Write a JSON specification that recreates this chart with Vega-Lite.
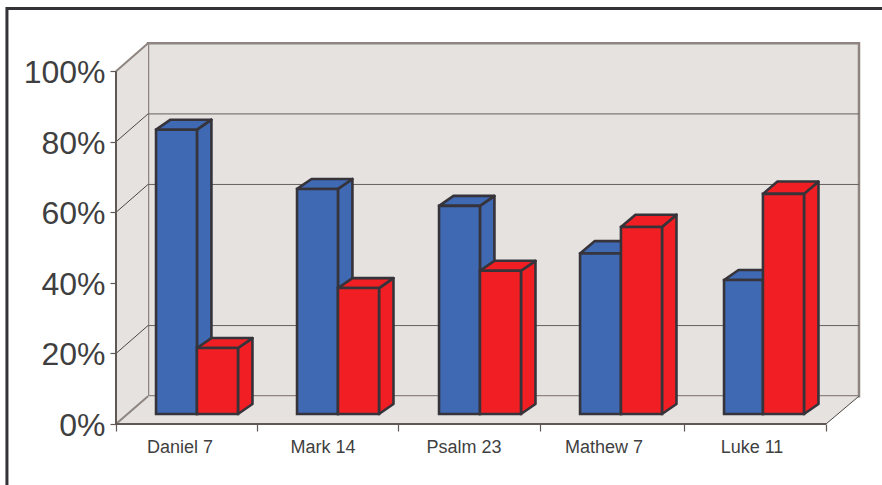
{
  "$schema": "https://vega.github.io/schema/vega-lite/v6.json",
  "width": 743,
  "height": 381,
  "padding": {"left": 116, "top": 43, "right": 23, "bottom": 61},
  "autosize": {"type": "none"},
  "background": "#ffffff",
  "config": {"view": {"stroke": null}, "font": "Liberation Sans"},
  "data": {"values": [
      {"book": "Daniel 7", "series": "first", "value": 80.6},
      {"book": "Daniel 7", "series": "second", "value": 18.7},
      {"book": "Mark 14", "series": "first", "value": 63.8},
      {"book": "Mark 14", "series": "second", "value": 35.7},
      {"book": "Psalm 23", "series": "first", "value": 59},
      {"book": "Psalm 23", "series": "second", "value": 40.6},
      {"book": "Mathew 7", "series": "first", "value": 45.5},
      {"book": "Mathew 7", "series": "second", "value": 53},
      {"book": "Luke 11", "series": "first", "value": 38},
      {"book": "Luke 11", "series": "second", "value": 62.4}
  ]},
  "transform": [
    {"calculate": "indexof(['Daniel 7','Mark 14','Psalm 23','Mathew 7','Luke 11'], datum.book)", "as": "i"},
    {"calculate": "[0.282,1.275,2.275,3.268,4.282][datum.i]", "as": "l"},
    {"calculate": "[0.570,1.563,2.563,3.556,4.556][datum.i]", "as": "m"},
    {"calculate": "[0.859,1.852,2.852,3.845,4.845][datum.i]", "as": "r"},
    {"calculate": "datum.series === 'first' ? datum.l : datum.m", "as": "xl"},
    {"calculate": "datum.series === 'first' ? datum.m : datum.r", "as": "xr"},
    {"calculate": "datum.value + 2.83", "as": "top"},
    {"calculate": "2.83", "as": "base"},
    {"calculate": "datum.i === 3 || (datum.i === 4 && datum.series === 'second') ? 3.5 : 2.83", "as": "capDepth"},
    {"calculate": "[0.451,1.458,2.451,3.437,4.479][datum.i]", "as": "labelAt"}
  ],
  "layer": [
    {
      "data": {"values": [{"one": 1}]},
      "mark": {"type": "rect", "fill": "#E5E2DF", "stroke": "#8E8580", "strokeWidth": 2.5},
      "encoding": {
        "x": {"datum": 0.2254, "type": "quantitative", "title": null,
          "scale": {"domain": [0, 5.2324], "nice": false, "zero": false},
          "axis": {"values": [0, 0.993, 1.986, 2.986, 4, 5], "labels": false, "domain": false, "grid": false, "tickSize": 7, "tickColor": "#5f5855", "tickWidth": 1.2}},
        "x2": {"datum": 5.2324},
        "y": {"datum": 7.9, "type": "quantitative", "title": null,
          "scale": {"domain": [0, 108], "nice": false, "zero": false},
          "axis": {"values": [0, 20, 40, 60, 80, 100], "labelExpr": "datum.value + '%'", "domain": false, "grid": false, "tickSize": 6, "tickColor": "#5f5855", "tickWidth": 1.2, "labelFontSize": 32, "labelColor": "#3f3f41", "labelPadding": 5, "labelOffset": 1.5, "labelFont": "Liberation Sans"}},
        "y2": {"datum": 107.9}
      }
    },
    {
      "data": {"values": [{"c": 0}, {"c": 1}]},
      "transform": [
        {"calculate": "datum.c * 0.2254", "as": "dx"},
        {"calculate": "datum.c * 7.9", "as": "dy"},
        {"calculate": "100 + datum.c * 7.9", "as": "up"}
      ],
      "mark": {"type": "area", "fill": "#E5E2DF", "orient": "vertical"},
      "encoding": {
        "x": {"field": "dx", "type": "quantitative", "title": null},
        "y": {"field": "dy", "type": "quantitative", "title": null, "stack": null},
        "y2": {"field": "up"}
      }
    },
    {
      "data": {"values": [{"c": 0}, {"c": 1}]},
      "transform": [
        {"calculate": "datum.c * 0.2254", "as": "dx"},
        {"calculate": "datum.c * 7.9", "as": "dy"},
        {"calculate": "5 + datum.c * 0.2324", "as": "far"}
      ],
      "mark": {"type": "area", "fill": "#E5E2DF", "orient": "horizontal"},
      "encoding": {
        "y": {"field": "dy", "type": "quantitative", "title": null},
        "x": {"field": "dx", "type": "quantitative", "title": null, "stack": null},
        "x2": {"field": "far"}
      }
    },
    {
      "data": {"values": [{"pct": 20}, {"pct": 60}, {"pct": 80}]},
      "transform": [{"calculate": "datum.pct + 7.9", "as": "back"}],
      "mark": {"type": "rule", "stroke": "#66615e", "strokeWidth": 1},
      "encoding": {
        "x": {"datum": 0.2254, "type": "quantitative", "title": null},
        "x2": {"datum": 5.2324},
        "y": {"field": "back", "type": "quantitative", "title": null}
      }
    },
    {
      "data": {"values": [{"pct": 20}, {"pct": 60}, {"pct": 80}]},
      "transform": [{"calculate": "datum.pct + 7.9", "as": "back"}],
      "mark": {"type": "rule", "stroke": "#4a4644", "strokeWidth": 1},
      "encoding": {
        "x": {"datum": 0, "type": "quantitative", "title": null},
        "x2": {"datum": 0.2254},
        "y": {"field": "pct", "type": "quantitative", "title": null},
        "y2": {"field": "back"}
      }
    },
    {
      "data": {"values": [{"pct": 0}, {"pct": 100}]},
      "transform": [{"calculate": "datum.pct + 7.9", "as": "back"}],
      "mark": {"type": "rule", "stroke": "#8E8580", "strokeWidth": 2},
      "encoding": {
        "x": {"datum": 0, "type": "quantitative", "title": null},
        "x2": {"datum": 0.2254},
        "y": {"field": "pct", "type": "quantitative", "title": null},
        "y2": {"field": "back"}
      }
    },
    {
      "data": {"values": [{"one": 1}]},
      "mark": {"type": "rule", "stroke": "#4a4644", "strokeWidth": 1},
      "encoding": {
        "x": {"datum": 5, "type": "quantitative", "title": null},
        "x2": {"datum": 5.2324},
        "y": {"datum": 0, "type": "quantitative", "title": null},
        "y2": {"datum": 7.9}
      }
    },
    {
      "data": {"values": [{"one": 1}]},
      "mark": {"type": "rule", "stroke": "#5f5855", "strokeWidth": 2},
      "encoding": {
        "x": {"datum": 0, "type": "quantitative", "title": null},
        "y": {"datum": 0, "type": "quantitative", "title": null},
        "y2": {"datum": 100}
      }
    },
    {
      "data": {"values": [{"one": 1}]},
      "mark": {"type": "rule", "stroke": "#5f5855", "strokeWidth": 2},
      "encoding": {
        "x": {"datum": 0, "type": "quantitative", "title": null},
        "x2": {"datum": 5},
        "y": {"datum": 0, "type": "quantitative", "title": null}
      }
    },
    {
      "data": {"values": [{"one": 1}]},
      "mark": {"type": "rect", "fill": null, "stroke": "#333236", "strokeWidth": 3, "clip": false},
      "encoding": {
        "x": {"datum": -0.768, "type": "quantitative", "title": null},
        "x2": {"datum": 5.6},
        "y": {"datum": 117.8, "type": "quantitative", "title": null},
        "y2": {"datum": -25}
      }
    },
    {
      "transform": [
        {"filter": "datum.series === 'first'"},
        {"calculate": "[0, 1]", "as": "c"},
        {"flatten": ["c"]},
        {"calculate": "datum.xr + datum.c * 0.102", "as": "sx"},
        {"calculate": "datum.top + datum.c * datum.capDepth", "as": "sy"},
        {"calculate": "2.83 + datum.c * 2.83", "as": "sb"}
      ],
      "mark": {"type": "area", "orient": "vertical", "stroke": "#36343a", "strokeWidth": 2.6, "strokeJoin": "round"},
      "encoding": {
        "x": {"field": "sx", "type": "quantitative", "title": null},
        "y": {"field": "sy", "type": "quantitative", "title": null, "stack": null},
        "y2": {"field": "sb"},
        "detail": {"field": "book"},
        "fill": {"field": "series", "type": "nominal", "legend": null, "scale": {"domain": ["first", "second"], "range": ["#3F69B3", "#F11F24"]}}
      }
    },
    {
      "transform": [
        {"filter": "datum.series === 'first'"},
        {"calculate": "[0, 1]", "as": "c"},
        {"flatten": ["c"]},
        {"calculate": "datum.top + datum.c * datum.capDepth", "as": "sy"},
        {"calculate": "datum.xl + datum.c * 0.102", "as": "tl"},
        {"calculate": "datum.xr + datum.c * 0.102", "as": "tr"}
      ],
      "mark": {"type": "area", "orient": "horizontal", "stroke": "#36343a", "strokeWidth": 2.6, "strokeJoin": "round"},
      "encoding": {
        "y": {"field": "sy", "type": "quantitative", "title": null},
        "x": {"field": "tl", "type": "quantitative", "title": null, "stack": null},
        "x2": {"field": "tr"},
        "detail": {"field": "book"},
        "fill": {"field": "series", "type": "nominal", "legend": null}
      }
    },
    {
      "transform": [{"filter": "datum.series === 'first'"}],
      "mark": {"type": "rect", "stroke": "#36343a", "strokeWidth": 2.6},
      "encoding": {
        "x": {"field": "xl", "type": "quantitative", "title": null},
        "x2": {"field": "xr"},
        "y": {"field": "top", "type": "quantitative", "title": null},
        "y2": {"field": "base"},
        "fill": {"field": "series", "type": "nominal", "legend": null}
      }
    },
    {
      "transform": [
        {"filter": "datum.series === 'second'"},
        {"calculate": "[0, 1]", "as": "c"},
        {"flatten": ["c"]},
        {"calculate": "datum.xr + datum.c * 0.102", "as": "sx"},
        {"calculate": "datum.top + datum.c * datum.capDepth", "as": "sy"},
        {"calculate": "2.83 + datum.c * 2.83", "as": "sb"}
      ],
      "mark": {"type": "area", "orient": "vertical", "stroke": "#36343a", "strokeWidth": 2.6, "strokeJoin": "round"},
      "encoding": {
        "x": {"field": "sx", "type": "quantitative", "title": null},
        "y": {"field": "sy", "type": "quantitative", "title": null, "stack": null},
        "y2": {"field": "sb"},
        "detail": {"field": "book"},
        "fill": {"field": "series", "type": "nominal", "legend": null}
      }
    },
    {
      "transform": [
        {"filter": "datum.series === 'second'"},
        {"calculate": "[0, 1]", "as": "c"},
        {"flatten": ["c"]},
        {"calculate": "datum.top + datum.c * datum.capDepth", "as": "sy"},
        {"calculate": "datum.xl + datum.c * 0.102", "as": "tl"},
        {"calculate": "datum.xr + datum.c * 0.102", "as": "tr"}
      ],
      "mark": {"type": "area", "orient": "horizontal", "stroke": "#36343a", "strokeWidth": 2.6, "strokeJoin": "round"},
      "encoding": {
        "y": {"field": "sy", "type": "quantitative", "title": null},
        "x": {"field": "tl", "type": "quantitative", "title": null, "stack": null},
        "x2": {"field": "tr"},
        "detail": {"field": "book"},
        "fill": {"field": "series", "type": "nominal", "legend": null}
      }
    },
    {
      "transform": [{"filter": "datum.series === 'second'"}],
      "mark": {"type": "rect", "stroke": "#36343a", "strokeWidth": 2.6},
      "encoding": {
        "x": {"field": "xl", "type": "quantitative", "title": null},
        "x2": {"field": "xr"},
        "y": {"field": "top", "type": "quantitative", "title": null},
        "y2": {"field": "base"},
        "fill": {"field": "series", "type": "nominal", "legend": null}
      }
    },
    {
      "transform": [{"filter": "datum.series === 'first'"}],
      "mark": {"type": "text", "fontSize": 18, "font": "Liberation Sans", "color": "#3f3f41", "baseline": "middle", "align": "center", "clip": false},
      "encoding": {
        "x": {"field": "labelAt", "type": "quantitative", "title": null},
        "y": {"datum": -6.8, "type": "quantitative", "title": null},
        "text": {"field": "book"}
      }
    }
  ]
}
